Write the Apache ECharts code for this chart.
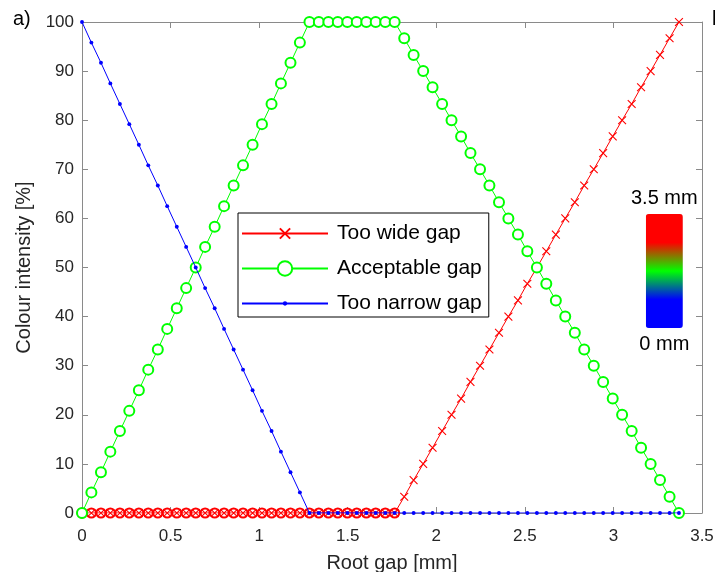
<!DOCTYPE html>
<html>
<head>
<meta charset="utf-8">
<script src="https://cdn.jsdelivr.net/npm/echarts@6/dist/echarts.min.js"></script>
<style>
html,body{margin:0;padding:0;background:#fff;}
#c{width:715px;height:572px;}
</style>
</head>
<body>
<div id="c"></div>
<script>
// Root gap sample positions [mm]
var rootGap = [0.000,0.053,0.107,0.160,0.214,0.267,0.321,0.374,0.428,0.481,0.535,0.588,0.642,0.695,0.749,0.802,0.856,0.909,0.963,1.016,1.070,1.123,1.177,1.230,1.284,1.337,1.391,1.444,1.498,1.551,1.605,1.658,1.712,1.765,1.819,1.872,1.926,1.979,2.033,2.086,2.140,2.193,2.247,2.300,2.354,2.407,2.461,2.514,2.568,2.621,2.675,2.728,2.782,2.835,2.889,2.942,2.996,3.049,3.103,3.156,3.210,3.263,3.317,3.370];
// Colour intensity [%]
var tooWide = [0,0,0,0,0,0,0,0,0,0,0,0,0,0,0,0,0,0,0,0,0,0,0,0,0,0,0,0,0,0,0,0,0,0,3.3,6.7,10,13.3,16.7,20,23.3,26.7,30,33.3,36.7,40,43.3,46.7,50,53.3,56.7,60,63.3,66.7,70,73.3,76.7,80,83.3,86.7,90,93.3,96.7,100];
var acceptable = [0,4.2,8.3,12.5,16.7,20.8,25,29.2,33.3,37.5,41.7,45.8,50,54.2,58.3,62.5,66.7,70.8,75,79.2,83.3,87.5,91.7,95.8,100,100,100,100,100,100,100,100,100,100,96.7,93.3,90,86.7,83.3,80,76.7,73.3,70,66.7,63.3,60,56.7,53.3,50,46.7,43.3,40,36.7,33.3,30,26.7,23.3,20,16.7,13.3,10,6.7,3.3,0];
var tooNarrow = [100,95.8,91.7,87.5,83.3,79.2,75,70.8,66.7,62.5,58.3,54.2,50,45.8,41.7,37.5,33.3,29.2,25,20.8,16.7,12.5,8.3,4.2,0,0,0,0,0,0,0,0,0,0,0,0,0,0,0,0,0,0,0,0,0,0,0,0,0,0,0,0,0,0,0,0,0,0,0,0,0,0,0,0];
var seriesNames = ['Too wide gap','Acceptable gap','Too narrow gap'];
var xTicks = [0,0.5,1,1.5,2,2.5,3,3.5];
var yTicks = [0,10,20,30,40,50,60,70,80,90,100];
var colourbarLabels = ['3.5 mm','0 mm'];
var colourbarRange = [0, 3.5];

function pairs(xs, ys){ return xs.map(function(x,i){ return [x, ys[i]]; }); }
// points of the "too wide" curve lying on the zero line (drawn with circle markers)
var wideZero = pairs(rootGap, tooWide).filter(function(p){ return p[1] === 0; });

var FONT = '"Liberation Sans", Arial, sans-serif';
var AX = '#8a8a8a';
var TXT = '#262626';
// padded symbol paths (padding keeps the legend icons small)
var crossPath = 'path://M0,0M14,14M2,2L12,12M12,2L2,12';
var dotPath = 'path://M0,0M20,20M13,10A3,3 0 1,1 7,10A3,3 0 1,1 13,10Z';

var chart = echarts.init(document.getElementById('c'), null, {renderer:'canvas'});

function xAxisCfg(pos, showLabels){
  return {
    type:'value', position:pos, min:xTicks[0], max:xTicks[xTicks.length-1], interval:0.5,
    axisLine:{show:true, onZero:false, lineStyle:{color:AX, width:1}},
    axisTick:{show:true, inside:true, length:6, lineStyle:{color:AX}},
    axisLabel:{show:showLabels, color:TXT, fontSize:17, fontFamily:FONT, margin:15},
    splitLine:{show:false}
  };
}
function yAxisCfg(pos, showLabels){
  return {
    type:'value', position:pos, min:yTicks[0], max:yTicks[yTicks.length-1], interval:10,
    axisLine:{show:true, onZero:false, lineStyle:{color:AX, width:1}},
    axisTick:{show:true, inside:true, length:6, lineStyle:{color:AX}},
    axisLabel:{show:showLabels, color:TXT, fontSize:17, fontFamily:FONT, margin:8},
    splitLine:{show:false}
  };
}

var xb = xAxisCfg('bottom', true);
xb.name = 'Root gap [mm]'; xb.nameLocation = 'middle'; xb.nameGap = 40;
xb.nameTextStyle = {color:TXT, fontSize:20, fontFamily:FONT};
var xt = xAxisCfg('top', false);
var yl = yAxisCfg('left', true);
yl.name = 'Colour intensity [%]'; yl.nameLocation = 'middle'; yl.nameGap = 45;
yl.nameTextStyle = {color:TXT, fontSize:20, fontFamily:FONT};
var yr = yAxisCfg('right', false);

var option = {
  backgroundColor:'#ffffff',
  animation:false,
  textStyle:{fontFamily:FONT},
  grid:{left:82, right:13, top:22, bottom:59, containLabel:false, outerBoundsMode:'none'},
  xAxis:[xb, xt],
  yAxis:[yl, yr],
  legend:{
    data:seriesNames,
    orient:'vertical', left:238, top:213,
    padding:[10,7,3,3],
    itemWidth:86, itemHeight:18, itemGap:14,
    backgroundColor:'#ffffff', borderColor:'#000000', borderWidth:1,
    textStyle:{color:'#000', fontSize:21, fontFamily:FONT, lineHeight:20, padding:[0,0,0,4]}
  },
  visualMap:{
    type:'continuous', seriesIndex:[], min:colourbarRange[0], max:colourbarRange[1],
    calculable:false, orient:'vertical', left:616, top:173,
    itemWidth:37, itemHeight:114, text:colourbarLabels, textGap:6,
    textStyle:{color:'#000', fontSize:20, fontFamily:FONT},
    inRange:{color:['#0000ff','#0000ff','#00ff00','#ff0000','#ff0000']}
  },
  graphic:[
    {type:'text', left:13, top:9, style:{text:'a)', fontSize:20, fontFamily:FONT, fill:'#000'}},
    {type:'text', left:712, top:9, style:{text:'b)', fontSize:20, fontFamily:FONT, fill:'#000'}}
  ],
  series:[
    {
      name:'wideZeroMarks', type:'line', data:wideZero, silent:true,
      lineStyle:{width:0, opacity:0}, symbol:'emptyCircle', symbolSize:9,
      itemStyle:{color:'#ff0000', borderColor:'#ff3030', borderWidth:0.8}, z:2
    },
    {
      name:seriesNames[0], type:'line', data:pairs(rootGap, tooWide),
      symbol:crossPath, symbolSize:11,
      lineStyle:{color:'#ff0000', width:1},
      itemStyle:{color:'#ff0000', borderColor:'#ff0000', borderWidth:1.1}, z:3
    },
    {
      name:seriesNames[1], type:'line', data:pairs(rootGap, acceptable),
      symbol:'emptyCircle', symbolSize:10,
      lineStyle:{color:'#00ff00', width:1},
      itemStyle:{color:'#00ff00', borderColor:'#00ff00', borderWidth:1}, z:4
    },
    {
      name:seriesNames[2], type:'line', data:pairs(rootGap, tooNarrow),
      symbol:dotPath, symbolSize:13,
      lineStyle:{color:'#0000ff', width:1},
      itemStyle:{color:'#0000ff', borderColor:'#0000ff', borderWidth:0}, z:5
    }
  ]
};
chart.setOption(option);
</script>
</body>
</html>
